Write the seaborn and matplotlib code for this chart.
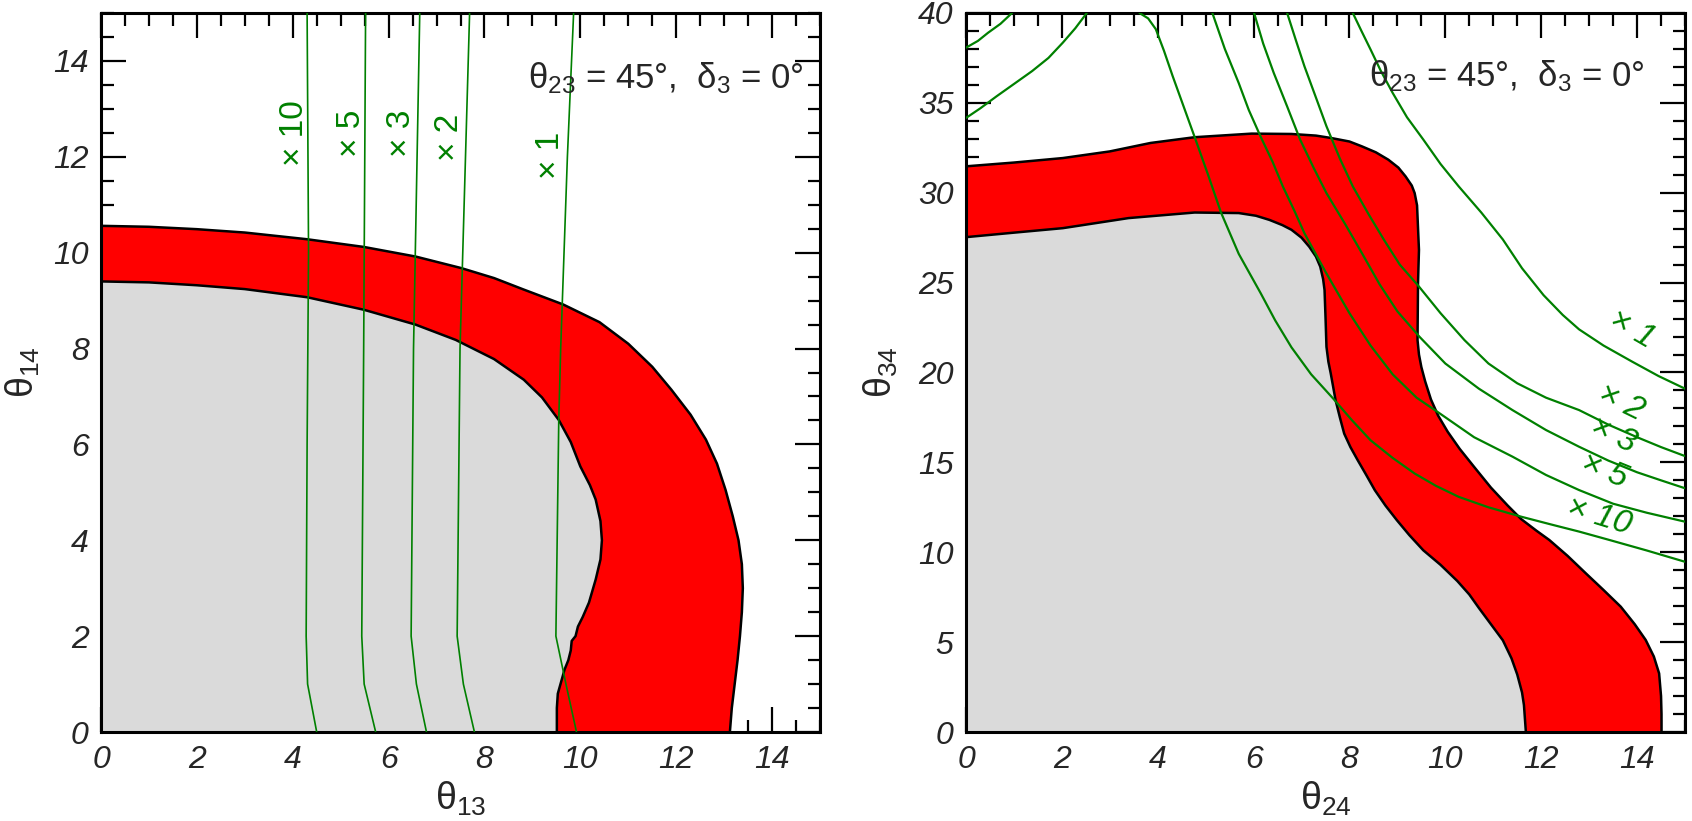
import numpy as np
import matplotlib
matplotlib.use('Agg')
import matplotlib.pyplot as plt
from matplotlib import font_manager
import seaborn as sns

# ---- left panel: theta13 vs theta14 ----
outer13_x = [0, 1.0, 2.0, 3.0, 4.3, 5.48, 6.56, 7.51, 8.2, 8.82, 9.64, 10.4, 11.0, 11.5, 11.9, 12.3, 12.62, 12.85,
             13.03, 13.18, 13.3, 13.37, 13.39, 13.37, 13.33, 13.28, 13.22, 13.16, 13.12]
outer13_y = [10.56, 10.54, 10.49, 10.42, 10.28, 10.12, 9.92, 9.68, 9.47, 9.23, 8.92, 8.55, 8.1, 7.62, 7.14, 6.62, 6.1, 5.6,
             5.05, 4.5, 4.0, 3.5, 3.0, 2.5, 2.0, 1.5, 1.0, 0.5, 0]
inner13_x = [0, 1.0, 2.0, 3.0, 4.3, 5.48, 6.56, 7.4, 8.2, 8.82, 9.2, 9.55, 9.8, 10.0, 10.2, 10.32, 10.42, 10.45, 10.42,
             10.32, 10.18, 10.05, 9.95, 9.9, 9.82, 9.8, 9.75, 9.67, 9.6, 9.53, 9.51, 9.51]
inner13_y = [9.40, 9.38, 9.32, 9.24, 9.07, 8.81, 8.50, 8.18, 7.78, 7.35, 6.98, 6.51, 6.05, 5.54, 5.15, 4.85, 4.4, 4.0, 3.6,
             3.18, 2.7, 2.4, 2.2, 2.0, 1.9, 1.7, 1.5, 1.3, 1.05, 0.8, 0.5, 0]

green13 = {
    '10': ([4.50, 4.31, 4.28, 4.30, 4.33, 4.30], [0, 1, 2, 6, 10, 15]),
    '5': ([5.73, 5.49, 5.44, 5.48, 5.52], [0, 1, 2, 8, 15]),
    '3': ([6.79, 6.58, 6.47, 6.52, 6.65], [0, 1, 2, 8, 15]),
    '2': ([7.79, 7.56, 7.43, 7.49, 7.69], [0, 1, 2, 8, 15]),
    '1': ([9.92, 9.70, 9.49, 9.55, 9.59, 9.73, 9.86], [0, 1, 2, 6.5, 8, 12, 15]),
}
label13_x = [4.03, 5.22, 6.27, 7.27, 9.37]
label13_y = [12.5, 12.5, 12.48, 12.41, 12.04]
label13_txt = ['\u00d7 10', '\u00d7 5', '\u00d7 3', '\u00d7 2', '\u00d7 1']

# ---- right panel: theta24 vs theta34 ----
outer24_x = [0, 1.0, 2.02, 3.0, 3.85, 4.77, 5.96, 6.79, 7.3, 7.61, 8.0, 8.26, 8.55, 8.81, 9.02, 9.17, 9.3, 9.36, 9.41,
             9.42, 9.45, 9.43, 9.42, 9.45, 9.5, 9.58, 9.7, 9.85, 10.05, 10.3, 10.6, 10.95, 11.3, 11.58, 11.9, 12.17,
             12.55, 12.93, 13.3, 13.66, 13.95, 14.18, 14.35, 14.46, 14.5, 14.51, 14.51]
outer24_y = [31.47, 31.68, 31.93, 32.3, 32.77, 33.09, 33.29, 33.27, 33.18, 33.05, 32.85, 32.58, 32.25, 31.84, 31.4,
             30.91, 30.4, 29.98, 29.3, 28.68, 26.82, 24.96, 21.8, 21.0, 20.3, 19.5, 18.5, 17.6, 16.7, 15.75, 14.75,
             13.6, 12.6, 11.85, 11.2, 10.68, 9.8, 8.83, 7.9, 6.97, 6.0, 5.12, 4.2, 3.26, 2.0, 1.0, 0]
inner24_x = [0, 1.0, 2.02, 3.39, 4.77, 5.69, 6.05, 6.33, 6.6, 6.79, 7.0, 7.16, 7.3, 7.39, 7.45, 7.48, 7.50, 7.52, 7.56,
             7.61, 7.71, 7.8, 7.89, 8.02, 8.17, 8.35, 8.53, 8.75, 8.99, 9.25, 9.54, 9.9, 10.25, 10.5, 10.7, 10.95,
             11.2, 11.38, 11.5, 11.6, 11.64, 11.68]
inner24_y = [27.53, 27.78, 28.03, 28.59, 28.90, 28.87, 28.72, 28.49, 28.2, 27.94, 27.5, 27.0, 26.45, 25.89, 25.2, 24.59,
             23.1, 21.43, 20.6, 19.94, 18.46, 17.5, 16.6, 15.85, 15.13, 14.3, 13.45, 12.6, 11.78, 10.95, 10.11, 9.3,
             8.4, 7.65, 6.9, 6.0, 5.1, 4.1, 3.2, 2.2, 1.5, 0]

green24 = {
    '1': ([8.07, 8.25, 8.44, 8.65, 8.90, 9.2, 9.54, 9.9, 10.28, 10.75, 11.2, 11.6, 12.05, 12.45, 12.79, 13.3, 13.9,
           14.45, 15.0],
          [40.0, 39.0, 37.97, 36.8, 35.56, 34.2, 32.96, 31.6, 30.35, 28.9, 27.4, 25.8, 24.3, 23.2, 22.4, 21.5, 20.6,
           19.8, 19.1]),
    '2': ([6.70, 6.88, 7.06, 7.3, 7.52, 7.8, 8.07, 8.4, 8.72, 9.05, 9.45, 9.9, 10.4, 10.9, 11.5, 12.1, 12.79, 13.4,
           14.0, 14.5, 15.0],
          [40.0, 38.5, 37.04, 35.3, 33.70, 31.9, 30.35, 28.8, 27.38, 26.0, 24.78, 23.3, 21.8, 20.5, 19.4, 18.6, 17.91,
           17.1, 16.4, 15.85, 15.35]),
    '3': ([6.01, 6.2, 6.42, 6.7, 6.97, 7.25, 7.52, 7.9, 8.26, 8.63, 9.0, 9.46, 10.0, 10.7, 11.4, 12.1, 12.79, 13.4,
           14.0, 14.5, 15.0],
          [40.0, 38.3, 36.67, 34.8, 32.96, 31.4, 29.98, 28.3, 26.64, 24.9, 23.4, 21.99, 20.5, 19.1, 17.91, 16.8, 15.87,
           15.1, 14.45, 14.0, 13.56]),
    '5': ([5.14, 5.4, 5.69, 5.9, 6.15, 6.4, 6.61, 6.85, 7.06, 7.5, 8.0, 8.44, 8.9, 9.4, 9.88, 10.6, 11.4, 12.1, 12.79,
           13.5, 14.2, 15.0],
          [40.0, 38.0, 36.1, 34.6, 33.1, 31.7, 30.35, 29.0, 27.75, 25.6, 23.3, 21.5, 19.9, 18.6, 17.73, 16.4, 15.32,
           14.3, 13.46, 12.7, 12.2, 11.7]),
    '10': ([3.62, 3.8, 3.96, 4.13, 4.31, 4.77, 5.05, 5.32, 5.69, 6.15, 6.45, 6.79, 7.2, 7.66, 8.05, 8.44, 8.9, 9.36,
            9.8, 10.28, 10.9, 11.58, 12.2, 12.79, 13.4, 14.2, 15.0],
           [40.0, 39.7, 39.1, 37.9, 36.5, 33.1, 31.0, 28.9, 26.6, 24.4, 22.9, 21.4, 19.9, 18.55, 17.35, 16.23, 15.25,
            14.38, 13.7, 13.08, 12.5, 11.98, 11.55, 11.15, 10.7, 10.1, 9.47]),
    'a': ([0, 0.3, 0.64, 1.0, 1.38, 1.72, 2.02, 2.28, 2.52],
          [34.16, 34.7, 35.37, 36.05, 36.77, 37.5, 38.35, 39.15, 40.0]),
    'b': ([0, 0.25, 0.46, 0.72, 0.96], [38.07, 38.45, 38.9, 39.4, 40.0]),
}
label24_x = [13.88, 13.66, 13.50, 13.32, 13.20]
label24_y = [22.4, 18.3, 16.5, 14.5, 12.0]
label24_rot = [-30, -26, -25, -22, -17]
label24_txt = ['\u00d7 1', '\u00d7 2', '\u00d7 3', '\u00d7 5', '\u00d7 10']

annot = r'$\mathregular{\theta_{23}}$ = 45°,  $\mathregular{\delta_3}$ = 0°'

sns.set_theme(style='ticks')
plt.rcParams['font.family'] = ['Liberation Sans', 'DejaVu Sans']
plt.rcParams['mathtext.fontset'] = 'custom'
plt.rcParams['mathtext.rm'] = 'Liberation Sans'
plt.rcParams['mathtext.it'] = 'Liberation Sans:italic'
plt.rcParams['axes.linewidth'] = 2.2

names = {f.name for f in font_manager.fontManager.ttflist}
tick_family = 'Liberation Sans Narrow' if 'Liberation Sans Narrow' in names else 'Liberation Sans'

fig = plt.figure(figsize=(16.92, 8.21), dpi=100)
ax1 = fig.add_axes([101 / 1692, 89 / 821, 719 / 1692, 719 / 821])
ax2 = fig.add_axes([966 / 1692, 89 / 821, 719 / 1692, 719 / 821])

RED = '#ff0000'
GREY = '#dadada'
GREEN = '#008000'


def band(ax, ox, oy, ix, iy):
    ax.fill([0] + ox, [0] + oy, color=RED, lw=0, zorder=1)
    ax.fill([0] + ix, [0] + iy, color=GREY, lw=0, zorder=2)
    for xs, ys in ((ox, oy), (ix, iy)):
        sns.lineplot(x=xs, y=ys, sort=False, estimator=None, color='black',
                     linewidth=1.8, ax=ax, zorder=3)


def style_axes(ax, xmaj, ymaj, xmin, ymin, xlim, ylim, xlab, ylab, ypad):
    ax.set_xlim(*xlim)
    ax.set_ylim(*ylim)
    ax.set_xticks(xmaj)
    ax.set_xticklabels([str(v) for v in xmaj], fontstyle='italic', fontsize=23, family=tick_family)
    ax.set_yticks(ymaj)
    ax.set_yticklabels([str(v) for v in ymaj], fontstyle='italic', fontsize=23, family=tick_family)
    ax.set_xticks(xmin, minor=True)
    ax.set_yticks(ymin, minor=True)
    ax.tick_params(which='both', direction='in', top=True, right=True,
                   color='black', width=1.6, pad=9)
    ax.tick_params(which='major', length=18)
    ax.tick_params(which='minor', length=9)
    for s in ax.spines.values():
        s.set_visible(True)
        s.set_color('black')
    ax.set_xlabel(xlab, fontsize=27, labelpad=4)
    ax.set_ylabel(ylab, fontsize=27, labelpad=ypad)


# left panel
band(ax1, outer13_x, outer13_y, inner13_x, inner13_y)
for k, (xs, ys) in green13.items():
    sns.lineplot(x=xs, y=ys, sort=False, estimator=None, color=GREEN,
                 linewidth=1.2, ax=ax1, zorder=4)
for x, y, t in zip(label13_x, label13_y, label13_txt):
    ax1.text(x, y, t, rotation=90, color=GREEN, fontsize=24,
             ha='center', va='center', zorder=5)
ax1.text(14.67, 13.42, annot, fontsize=25, ha='right', va='baseline', zorder=5)
style_axes(ax1, list(range(0, 15, 2)), list(range(0, 15, 2)),
           np.arange(0, 15.01, 0.5), np.arange(0, 15.01, 0.5),
           (0, 15), (0, 15), r'$\mathregular{\theta_{13}}$',
           r'$\mathregular{\theta_{14}}$', 8)

# right panel
band(ax2, outer24_x, outer24_y, inner24_x, inner24_y)
for k, (xs, ys) in green24.items():
    sns.lineplot(x=xs, y=ys, sort=False, estimator=None, color=GREEN,
                 linewidth=1.6, ax=ax2, zorder=4)
for x, y, r, t in zip(label24_x, label24_y, label24_rot, label24_txt):
    ax2.text(x, y, t, rotation=r, color=GREEN, fontsize=24, fontstyle='italic',
             ha='center', va='center', rotation_mode='anchor', zorder=5)
ax2.text(14.15, 35.9, annot, fontsize=25, ha='right', va='baseline', zorder=5)
style_axes(ax2, list(range(0, 15, 2)), list(range(0, 41, 5)),
           np.arange(0, 15.01, 0.5), np.arange(0, 40.01, 1),
           (0, 15), (0, 40), r'$\mathregular{\theta_{24}}$',
           r'$\mathregular{\theta_{34}}$', 13)

fig.savefig('out.png', dpi=100)
